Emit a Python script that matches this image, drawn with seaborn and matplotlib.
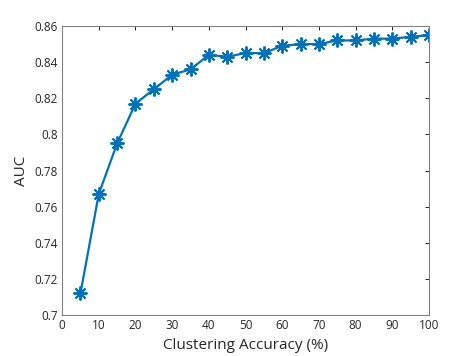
import numpy as np
import pandas as pd
import seaborn as sns
import matplotlib.pyplot as plt

accuracy = [5, 10, 15, 20, 25, 30, 35, 40, 45, 50,
            55, 60, 65, 70, 75, 80, 85, 90, 95, 100]
auc = [0.712, 0.767, 0.795, 0.817, 0.825, 0.833, 0.836, 0.844, 0.843, 0.845,
       0.845, 0.849, 0.850, 0.850, 0.852, 0.852, 0.853, 0.853, 0.854, 0.855]
xticks = [0, 10, 20, 30, 40, 50, 60, 70, 80, 90, 100]
yticks = [0.7, 0.72, 0.74, 0.76, 0.78, 0.8, 0.82, 0.84, 0.86]
ytick_labels = ["0.7", "0.72", "0.74", "0.76", "0.78", "0.8", "0.82", "0.84", "0.86"]

data = pd.DataFrame({"acc": accuracy, "auc": auc})

sns.set_style("white")
plt.rcParams['font.family'] = ['Open Sans', 'DejaVu Sans']

fig = plt.figure(figsize=(4.74, 3.56), dpi=100)
ax = fig.add_axes([0.131, 0.115, 0.774, 0.812])

# matlab-style asterisk marker
sns.lineplot(data=data, x="acc", y="auc", ax=ax, color="#0072BD",
             marker=(8, 2, 0), markersize=10, markeredgewidth=1.4,
             markeredgecolor="#0072BD", linewidth=1.6)

ax.set_xlim(0, 100)
ax.set_ylim(0.7, 0.86)
ax.set_xticks(xticks)
ax.set_yticks(yticks)
ax.set_yticklabels(ytick_labels)
ax.tick_params(direction="in", length=3, width=0.7, colors="#262626",
               labelsize=8.5, top=True, right=True, pad=3)
for s in ax.spines.values():
    s.set_color("#808080")
    s.set_linewidth(0.8)
ax.set_xlabel("Clustering Accuracy (%)", fontsize=11, color="#262626")
ax.set_ylabel("AUC", fontsize=11, color="#262626")

fig.savefig("out.png", dpi=100)
plt.close()
